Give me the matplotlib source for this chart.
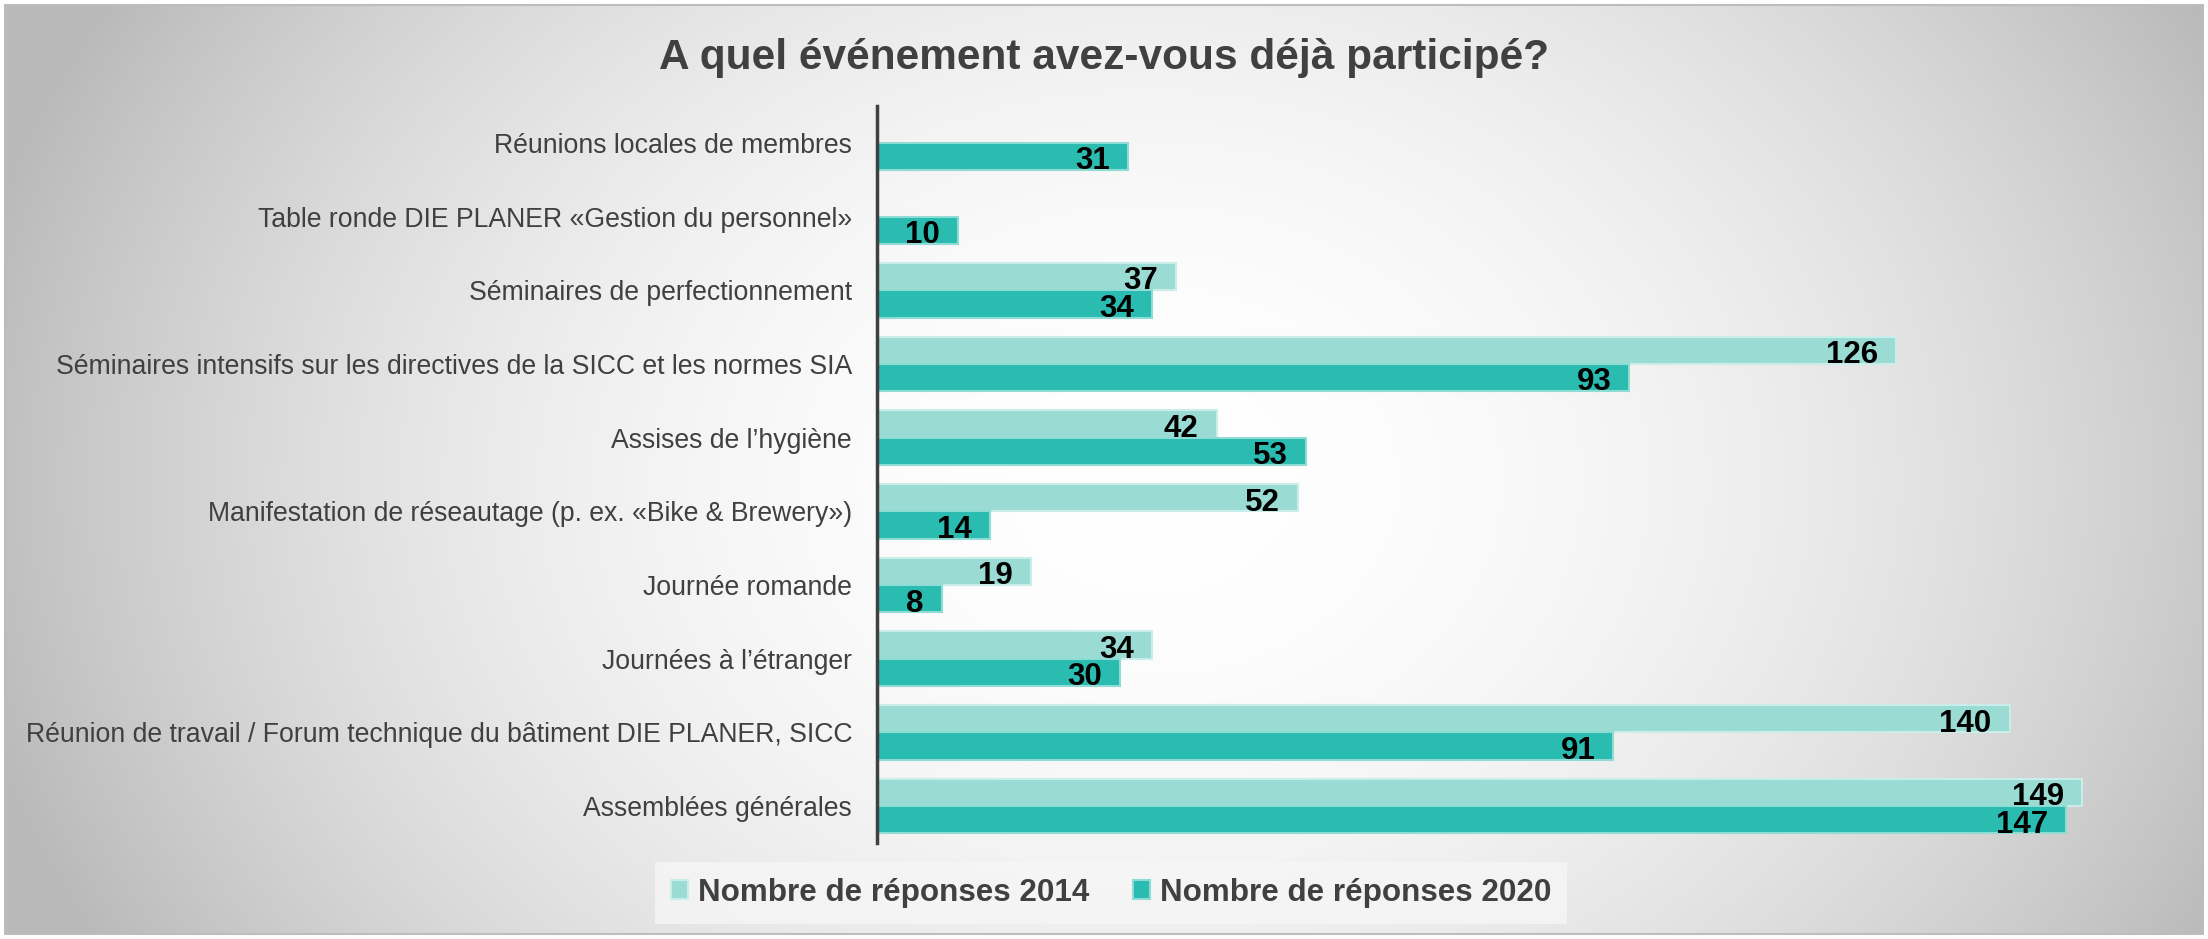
import numpy as np
import matplotlib.pyplot as plt
from matplotlib.patches import Rectangle

# ---------------------------------------------------------------
#  data
# ---------------------------------------------------------------
categories = [
    "Réunions locales de membres",
    "Table ronde DIE PLANER «Gestion du personnel»",
    "Séminaires de perfectionnement",
    "Séminaires intensifs sur les directives de la SICC et les normes SIA",
    "Assises de l\u2019hygiène",
    "Manifestation de réseautage (p. ex. «Bike & Brewery»)",
    "Journée romande",
    "Journées à l\u2019étranger",
    "Réunion de travail / Forum technique du bâtiment DIE PLANER, SICC",
    "Assemblées générales",
]
answers_2014 = [None, None, 37, 126, 42, 52, 19, 34, 140, 149]
answers_2020 = [31, 10, 34, 93, 53, 14, 8, 30, 91, 147]
series_names = ["Nombre de réponses 2014", "Nombre de réponses 2020"]

title = "A quel événement avez-vous déjà participé?"

col_2014 = "#9adcd4"
col_2020 = "#2abbb1"
text_grey = "#404040"

plt.rcParams['font.family'] = ['Liberation Sans', 'DejaVu Sans']

W, H = 2208, 939
fig = plt.figure(figsize=(W / 100, H / 100), dpi=100)
fig.patch.set_facecolor("white")

# background: elliptical grey-to-white gradient inside a thin frame
bg = fig.add_axes([0, 0, 1, 1], zorder=-10)
bg.set_xlim(0, W)
bg.set_ylim(H, 0)
bg.axis("off")
xx, yy = np.meshgrid(np.arange(5, W - 5), np.arange(5, H - 5))
r2 = ((xx - 1150) / 1150.0) ** 2 + ((yy - 480) / 900.0) ** 2
shade = 255 - 63 * np.clip(r2, 0, 1.1)
img = np.dstack([shade, shade, shade]).astype(np.uint8)
bg.imshow(img, extent=(5, W - 5, H - 5, 5), aspect="auto", interpolation="bilinear")
bg.add_patch(Rectangle((5, 5), W - 10, H - 10, fill=False, ec="#bdbdbd", lw=1.5))

# main axes
ax_left, ax_right = 877, 2150
ax_top, ax_bottom = 106, 843
ax = fig.add_axes([ax_left / W, 1 - ax_bottom / H, (ax_right - ax_left) / W, (ax_bottom - ax_top) / H])
ax.patch.set_alpha(0)

y = np.arange(len(categories))
h = 0.37
v14 = [np.nan if v is None else v for v in answers_2014]
b14 = ax.barh(y - h / 2, v14, height=h, color=col_2014, edgecolor="#c9eeea", linewidth=1.5,
              label=series_names[0])
b20 = ax.barh(y + h / 2, answers_2020, height=h, color=col_2020, edgecolor="#8fdcd4", linewidth=1.5,
              label=series_names[1])

for bars, vals in ((b14, answers_2014), (b20, answers_2020)):
    for rect, v in zip(bars, vals):
        if v is None:
            continue
        ax.annotate(str(v), (v, rect.get_y() + rect.get_height() / 2),
                    xytext=(-13, -3.5), textcoords="offset points",
                    ha="right", va="center", fontsize=22.5, fontweight="bold", color="black")

ax.set_xlim(0, (ax_right - ax_left) / 8.09)
ax.set_ylim(len(categories) - 0.5, -0.5)
ax.set_yticks(y)
ax.set_yticklabels(categories, fontsize=19.2, color=text_grey)
ax.tick_params(axis="y", length=0, pad=18)
ax.set_xticks([])
for s in ("top", "right", "bottom"):
    ax.spines[s].set_visible(False)
ax.spines["left"].set_color(text_grey)
ax.spines["left"].set_linewidth(2.5)

fig.text(0.5, 1 - 58 / H, title, ha="center", va="center", fontsize=30.5,
         fontweight="bold", color=text_grey)

leg = fig.legend(handles=[b14, b20], loc="center", bbox_to_anchor=(1111 / W, 1 - 893 / H),
                 ncol=2, frameon=True, fontsize=22.6, handlelength=0.55, handleheight=0.55,
                 handletextpad=0.3, columnspacing=1.4, borderpad=0.5, fancybox=False)
leg.get_frame().set_facecolor("#f6f6f6")
leg.get_frame().set_edgecolor("none")
for t in leg.get_texts():
    t.set_fontweight("bold")
    t.set_color(text_grey)

fig.savefig("out.png", dpi=100)
